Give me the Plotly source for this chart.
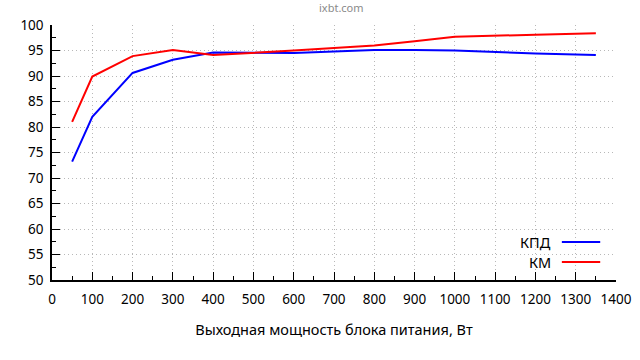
import plotly.graph_objects as go

power_w = [50, 100, 200, 300, 400, 500, 600, 700, 800, 900, 1000, 1200, 1350]
kpd = [73.2, 82.0, 90.6, 93.2, 94.6, 94.6, 94.5, 94.8, 95.1, 95.1, 95.0, 94.4, 94.1]
km = [81.0, 89.9, 93.9, 95.1, 94.1, 94.5, 95.0, 95.5, 96.0, 96.8, 97.7, 98.1, 98.4]
x_ticks = list(range(0, 1401, 100))
y_ticks = list(range(50, 101, 5))

FONT = "Noto Sans"

fig = go.Figure()
fig.add_trace(go.Scatter(x=power_w, y=kpd, mode="lines", name="КПД",
                         line=dict(color="#0000ff", width=2)))
fig.add_trace(go.Scatter(x=power_w, y=km, mode="lines", name="КМ",
                         line=dict(color="#ff0000", width=2)))

axis_common = dict(
    showline=True, linecolor="black", linewidth=1.5,
    ticks="inside", ticklen=8, tickcolor="black", tickwidth=1,
    showgrid=True, gridcolor="#b8b8b8", griddash="1px,3px", gridwidth=1,
    zeroline=False, tickfont=dict(family=FONT, size=13.5, color="black"),
    automargin=False,
)

fig.update_layout(
    width=640, height=360,
    margin=dict(l=52, r=24, t=25, b=80),
    paper_bgcolor="white", plot_bgcolor="white",
    showlegend=False,
    xaxis=dict(range=[0, 1400], tickvals=x_ticks, ticktext=[str(v) for v in x_ticks],
               minor=dict(dtick=50, tick0=0, ticks="inside", ticklen=4, tickcolor="black", showgrid=False),
               ticklabelstandoff=6,
               title=dict(text="Выходная мощность блока питания, Вт",
                          font=dict(family=FONT, size=14.5, color="black"), standoff=18),
               **axis_common),
    yaxis=dict(range=[50, 100], tickvals=y_ticks, ticktext=[str(v) for v in y_ticks],
               minor=dict(dtick=2.5, tick0=50, ticks="inside", ticklen=4, tickcolor="black", showgrid=False),
               ticklabelstandoff=4,
               **axis_common),
)

# title
fig.add_annotation(text="ixbt.com", xref="paper", yref="paper", x=0.514, y=1.067,
                   showarrow=False, font=dict(family=FONT, size=11, color="#8a8a8a"),
                   xanchor="center", yanchor="middle")

# legend (text left of line sample)
legend_items = [("КПД", "#0000ff", 0.149), ("КМ", "#ff0000", 0.0706)]
for name, color, yp in legend_items:
    fig.add_annotation(text=name, xref="paper", yref="paper", x=0.888, y=yp,
                       xanchor="right", yanchor="middle", showarrow=False,
                       font=dict(family=FONT, size=14.5, color="black"))
    fig.add_shape(type="line", xref="paper", yref="paper", x0=0.904, x1=0.972, y0=yp, y1=yp,
                  line=dict(color=color, width=2))

fig.write_html("out.html", config={"displayModeBar": False},
               post_script="document.body.style.margin='0';")
